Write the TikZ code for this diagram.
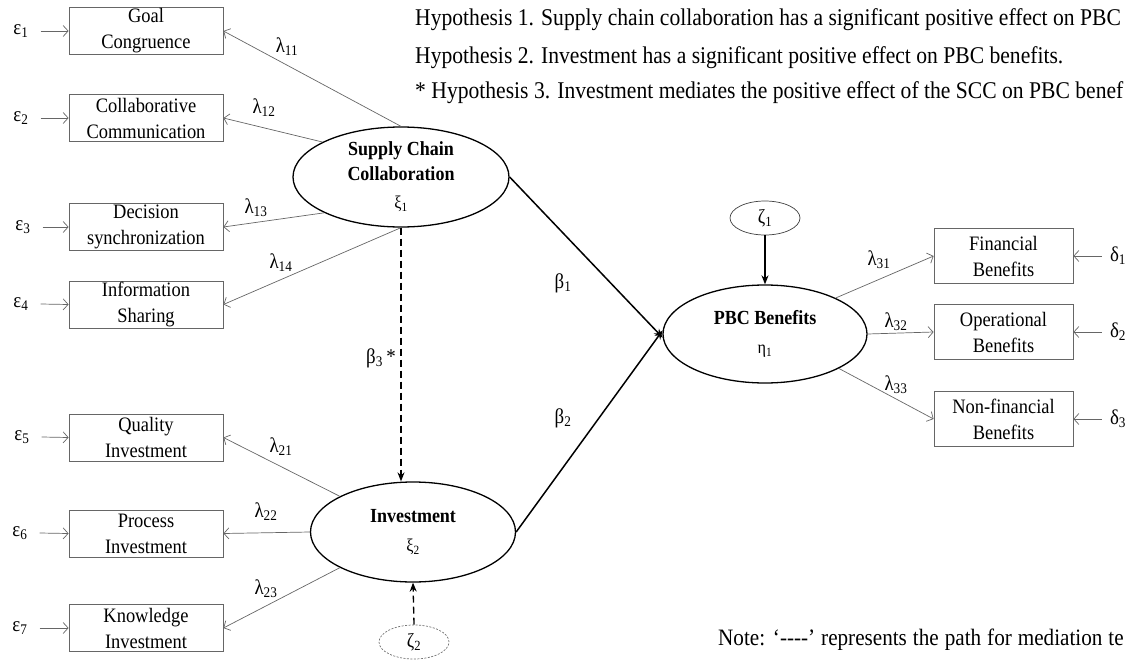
\documentclass[tikz,border=0pt]{standalone}
\usepackage{fontspec}
\setmainfont{Liberation Serif}[FakeStretch=0.9]
\usetikzlibrary{arrows.meta,shapes.geometric}
\begin{document}
\begin{tikzpicture}[x=1pt,y=-1pt,
  obs/.style={draw=black!60, line width=0.8pt, minimum width=154pt, minimum height=47pt, inner sep=0pt, align=center, font=\fontsize{20.5}{26}\selectfont},
  obsr/.style={obs, minimum width=139pt, minimum height=55pt},
  lat/.style={ellipse, draw=black, line width=1.3pt, inner sep=0pt, align=center, font=\fontsize{20}{27}\selectfont},
  dist/.style={ellipse, draw=black!75, line width=0.7pt, inner sep=0pt, minimum width=70pt, minimum height=34pt, font=\fontsize{20}{22}\selectfont},
  lbl/.style={inner sep=0pt, font=\fontsize{21}{22}\selectfont},
  load/.style={draw=black!60, line width=0.7pt, -{Straight Barb[length=5pt,width=11pt]}},
  struct/.style={draw=black, line width=1.5pt, -{Stealth[length=9pt,width=7pt]}},
  txt/.style={anchor=west, inner sep=0pt, font=\fontsize{24}{26}\selectfont}
]
\useasboundingbox (0,0) rectangle (1132,661);

% hypotheses
\node[txt] (h1) at (415,20) {Hypothesis 1. Supply chain collaboration has a significant positive effect on PBC};
\node[txt] (h2) at (415,58) {Hypothesis 2. Investment has a significant positive effect on PBC benefits.};
\node[txt] (h3) at (415,93) {* Hypothesis 3. Investment mediates the positive effect of the SCC on PBC benef};
\node[txt, font=\fontsize{23.5}{26}\selectfont] (note) at (718,640) {\spaceskip=6pt Note: ‘\mbox{-}\mbox{-}\mbox{-}\mbox{-}’ represents the path for mediation te};

% left indicator boxes
\node[obs] (b1) at (146,31) {Goal\\Congruence};
\node[obs] (b2) at (146,118) {Collaborative\\Communication};
\node[obs] (b3) at (146,227) {Decision\\synchronization};
\node[obs] (b4) at (146,304.5) {Information\\Sharing};
\node[obs] (b5) at (146,437.5) {Quality\\Investment};
\node[obs] (b6) at (146,533.5) {Process\\Investment};
\node[obs] (b7) at (146,628) {Knowledge\\Investment};

% right indicator boxes
\node[obsr] (r1) at (1003.5,256) {Financial\\Benefits};
\node[obsr] (r2) at (1003.5,332) {Operational\\Benefits};
\node[obsr] (r3) at (1003.5,419) {Non-financial\\Benefits};

% errors
\node[lbl] (e1) at (21,31) {ε\textsubscript{1}};
\node[lbl] (e2) at (21,118) {ε\textsubscript{2}};
\node[lbl] (e3) at (23,227) {ε\textsubscript{3}};
\node[lbl] (e4) at (21,304) {ε\textsubscript{4}};
\node[lbl] (e5) at (22,437) {ε\textsubscript{5}};
\node[lbl] (e6) at (20,533) {ε\textsubscript{6}};
\node[lbl] (e7) at (20,628) {ε\textsubscript{7}};
\node[lbl] (d1) at (1118,256) {δ\textsubscript{1}};
\node[lbl] (d2) at (1118,332) {δ\textsubscript{2}};
\node[lbl] (d3) at (1118,419) {δ\textsubscript{3}};

% latent variables
\node[lat, minimum width=216pt, minimum height=100pt] (scc) at (401,177)
  {\textbf{Supply Chain}\\[-2pt]\textbf{Collaboration}\\[1pt]{\fontsize{18}{20}\selectfont ξ\textsubscript{1}}};
\node[lat, minimum width=205pt, minimum height=100pt] (inv) at (413,532)
  {\textbf{Investment}\\[2pt]{\fontsize{18}{20}\selectfont ξ\textsubscript{2}}};
\node[lat, minimum width=204pt, minimum height=98pt] (pbc) at (765,334)
  {\textbf{PBC Benefits}\\[2pt]{\fontsize{18}{20}\selectfont η\textsubscript{1}}};
\node[dist] (z1) at (765,218) {ζ\textsubscript{1}};
\node[dist, dashed, dash pattern=on 2pt off 1.5pt, draw=black!55] (z2) at (414,642) {ζ\textsubscript{2}};

% loadings
\draw[load] (scc.north) -- (b1.east);
\draw[load] (scc.156) -- (b2.east);
\draw[load] (scc.205) -- (b3.east);
\draw[load] (scc.south) -- (b4.east);
\draw[load] (inv.154) -- (b5.east);
\draw[load] (inv.west) -- (b6.east);
\draw[load] (inv.206) -- (b7.east);
\draw[load] (pbc.27) -- (r1.west);
\draw[load] (pbc.east) -- (r2.west);
\draw[load] (pbc.335) -- (r3.west);

\node[lbl] (l11) at (287,47) {λ\textsubscript{11}};
\node[lbl] (l12) at (264,108) {λ\textsubscript{12}};
\node[lbl] (l13) at (256,208) {λ\textsubscript{13}};
\node[lbl] (l14) at (281,263) {λ\textsubscript{14}};
\node[lbl] (l21) at (281,447) {λ\textsubscript{21}};
\node[lbl] (l22) at (266,512) {λ\textsubscript{22}};
\node[lbl] (l23) at (266,589) {λ\textsubscript{23}};
\node[lbl] (l31) at (879,260) {λ\textsubscript{31}};
\node[lbl] (l32) at (896,322) {λ\textsubscript{32}};
\node[lbl] (l33) at (896,385) {λ\textsubscript{33}};

% error arrows
\foreach \e/\b in {e1/b1,e2/b2,e3/b3,e4/b4,e5/b5,e6/b6,e7/b7}
  \draw[load] (\e.east) ++(12pt,0) coordinate (\e a) (\e a) -- (\b.west);
\foreach \d/\r in {d1/r1,d2/r2,d3/r3}
  \draw[load] (\d.west) ++(-8pt,0) coordinate (\d a) (\d a) -- (\r.east);

% structural paths
\draw[struct] (scc.east) -- (pbc.182);
\draw[struct] (inv.east) -- (pbc.178);
\draw[struct] (z1.south) -- (pbc.north);
\draw[struct, line width=1.3pt, dash pattern=on 7pt off 4pt] (scc.south) -- (scc.south |- inv.north);
\draw[struct, line width=1.3pt, dash pattern=on 7pt off 4pt] (z2.north) -- (inv.south);

\node[lbl] (bb1) at (563,283) {β\textsubscript{1}};
\node[lbl] (bb2) at (563,418) {β\textsubscript{2}};
\node[lbl] (bb3) at (381,358) {β\textsubscript{3}\,*};
\end{tikzpicture}
\end{document}
